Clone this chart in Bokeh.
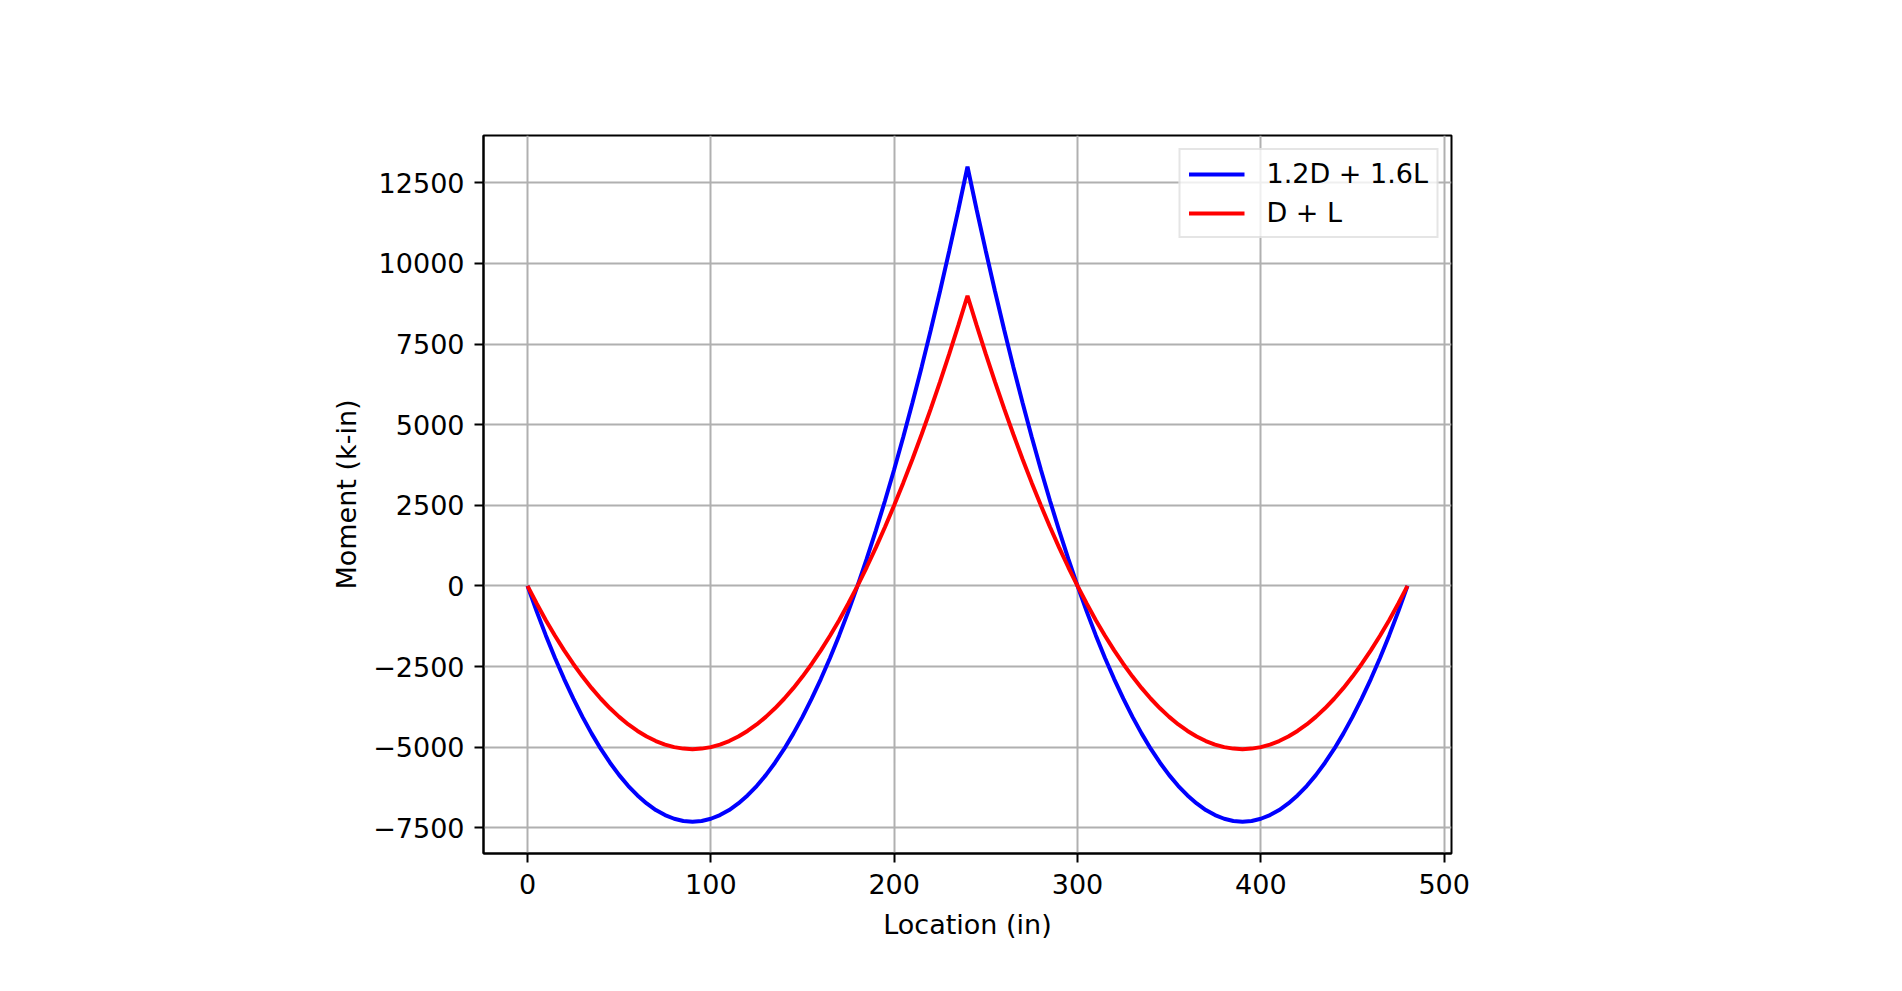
from bokeh.plotting import figure
from bokeh.models import FixedTicker, Legend, LegendItem, Range1d
from bokeh.embed import file_html
from bokeh.resources import INLINE

# ---- data ----
location = [0, 5, 10, 15, 20, 25, 30, 35, 40, 45, 50, 55, 60, 65, 70, 75, 80, 85, 90, 95,
            100, 105, 110, 115, 120, 125, 130, 135, 140, 145, 150, 155, 160, 165, 170, 175,
            180, 185, 190, 195, 200, 205, 210, 215, 220, 225, 230, 235, 240, 245, 250, 255,
            260, 265, 270, 275, 280, 285, 290, 295, 300, 305, 310, 315, 320, 325, 330, 335,
            340, 345, 350, 355, 360, 365, 370, 375, 380, 385, 390, 395, 400, 405, 410, 415,
            420, 425, 430, 435, 440, 445, 450, 455, 460, 465, 470, 475, 480]
factored = [0, -790, -1535, -2234, -2889, -3498, -4063, -4582, -5056, -5484, -5868, -6207,
            -6500, -6748, -6951, -7109, -7222, -7290, -7313, -7290, -7222, -7109, -6951, -6748,
            -6500, -6207, -5868, -5484, -5056, -4582, -4063, -3498, -2889, -2234, -1535, -790,
            0, 835, 1715, 2641, 3611, 4627, 5688, 6793, 7944, 9141, 10382, 11668, 13000,
            11668, 10382, 9141, 7944, 6793, 5688, 4627, 3611, 2641, 1715, 835, 0,
            -790, -1535, -2234, -2889, -3498, -4063, -4582, -5056, -5484, -5868, -6207,
            -6500, -6748, -6951, -7109, -7222, -7290, -7313, -7290, -7222, -7109, -6951, -6748,
            -6500, -6207, -5868, -5484, -5056, -4582, -4063, -3498, -2889, -2234, -1535, -790, 0]
service = [0, -547, -1063, -1547, -2000, -2422, -2813, -3172, -3500, -3797, -4063, -4297,
           -4500, -4672, -4813, -4922, -5000, -5047, -5063, -5047, -5000, -4922, -4813, -4672,
           -4500, -4297, -4063, -3797, -3500, -3172, -2813, -2422, -2000, -1547, -1063, -547,
           0, 578, 1188, 1828, 2500, 3203, 3938, 4703, 5500, 6328, 7188, 8078, 9000,
           8078, 7188, 6328, 5500, 4703, 3938, 3203, 2500, 1828, 1188, 578, 0,
           -547, -1063, -1547, -2000, -2422, -2813, -3172, -3500, -3797, -4063, -4297,
           -4500, -4672, -4813, -4922, -5000, -5047, -5063, -5047, -5000, -4922, -4813, -4672,
           -4500, -4297, -4063, -3797, -3500, -3172, -2813, -2422, -2000, -1547, -1063, -547, 0]
series_labels = ["1.2D + 1.6L", "D + L"]
x_ticks = [0, 100, 200, 300, 400, 500]
y_ticks = [-7500, -5000, -2500, 0, 2500, 5000, 7500, 10000, 12500]
y_tick_labels = ["\u22127500", "\u22125000", "\u22122500", "0", "2500", "5000", "7500", "10000", "12500"]

FONT = "DejaVu Sans"
FS = "27px"

p = figure(width=1902, height=991, output_backend="svg", toolbar_location=None,
           x_range=Range1d(-24, 504), y_range=Range1d(-8300, 13970),
           min_border_left=483, min_border_right=451, min_border_top=135, min_border_bottom=138)

p.outline_line_color = "black"
p.outline_line_width = 2

for ax in (p.xaxis[0], p.yaxis[0]):
    ax.axis_line_color = "black"
    ax.axis_line_width = 2
    ax.major_tick_line_color = "black"
    ax.major_tick_line_width = 2
    ax.major_tick_out = 9
    ax.major_tick_in = 0
    ax.minor_tick_line_color = None
    ax.major_label_text_font = FONT
    ax.major_label_text_font_size = FS
    ax.major_label_text_color = "black"
    ax.axis_label_text_font = FONT
    ax.axis_label_text_font_size = FS
    ax.axis_label_text_font_style = "normal"
    ax.axis_label_text_color = "black"

p.xaxis.ticker = FixedTicker(ticks=x_ticks)
p.yaxis.ticker = FixedTicker(ticks=y_ticks)
p.yaxis.major_label_overrides = {t: l for t, l in zip(y_ticks, y_tick_labels)}
p.xaxis.axis_label = "Location (in)"
p.yaxis.axis_label = "Moment (k-in)"
p.xaxis.major_label_standoff = 11
p.yaxis.major_label_standoff = 10
p.xaxis.axis_label_standoff = 12
p.yaxis.axis_label_standoff = 8

p.grid.grid_line_color = "#b0b0b0"
p.grid.grid_line_width = 2

r1 = p.line(location, factored, line_color="blue", line_width=4)
r2 = p.line(location, service, line_color="red", line_width=4)

legend = Legend(items=[LegendItem(label=series_labels[0], renderers=[r1]),
                       LegendItem(label=series_labels[1], renderers=[r2])],
                location="top_right", margin=13, padding=8, spacing=8,
                glyph_width=56, glyph_height=30, label_standoff=22,
                label_text_font=FONT, label_text_font_size=FS, label_text_color="black",
                border_line_color="#cccccc", border_line_width=2,
                background_fill_color="white", background_fill_alpha=0.8)
p.add_layout(legend)

open("out.html", "w").write(file_html(p, INLINE))
